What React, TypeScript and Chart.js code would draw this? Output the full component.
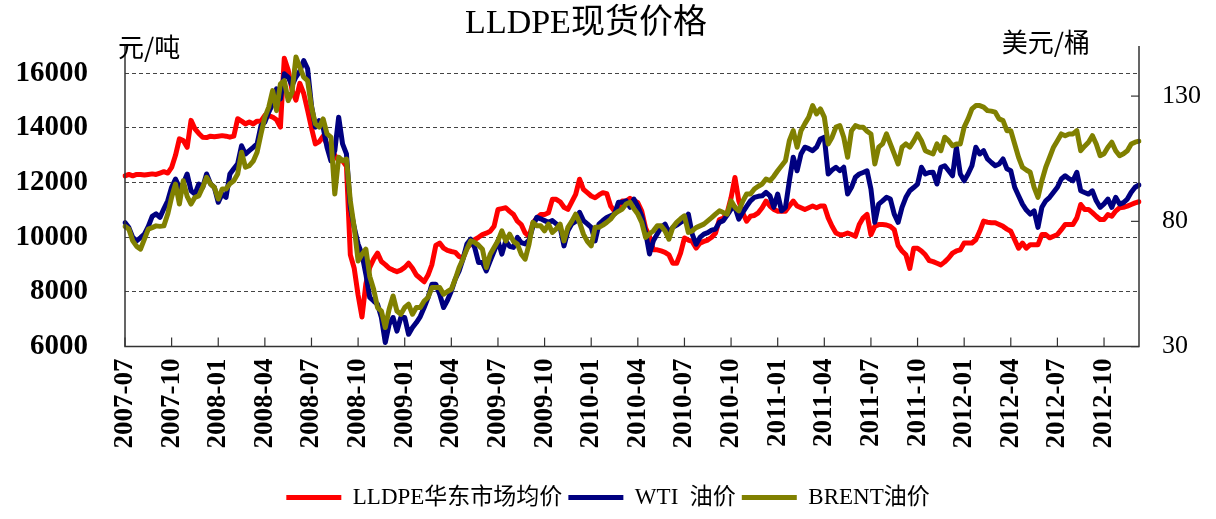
import React, { useEffect, useRef } from "react";
import { Chart, registerables } from "chart.js";

Chart.register(...registerables);

const TITLE = "LLDPE现货价格";
const LEFT_UNIT = "元/吨";
const RIGHT_UNIT = "美元/桶";
const TICK_LABELS = [
  "2007-07", "2007-10", "2008-01", "2008-04", "2008-07", "2008-10",
  "2009-01", "2009-04", "2009-07", "2009-10", "2010-01", "2010-04",
  "2010-07", "2010-10", "2011-01", "2011-04", "2011-07", "2011-10",
  "2012-01", "2012-04", "2012-07", "2012-10",
];
const LEFT_TICKS = [6000, 8000, 10000, 12000, 14000, 16000];
const RIGHT_TICKS = [30, 80, 130];
const SERIES_NAMES = ["LLDPE华东市场均价", "WTI  油价", "BRENT油价"];
const COLORS = ["#FF0000", "#000080", "#808000"];

// four readings per month, 2007-07 .. 2012-12 (first half)
const LLDPE = [
  12250, 12300, 12250, 12300,
  12300, 12280, 12300, 12320,
  12300, 12350, 12400, 12350,
  12556, 13000, 13600, 13540,
  13294, 14278, 13970, 13800,
  13663, 13650, 13700, 13680,
  13700, 13720, 13700, 13663,
  13700, 14340, 14250, 14150,
  14217, 14150, 14250, 14250,
  14463, 14450, 14401, 14300,
  14032, 16553, 16123, 15385,
  15016, 15631, 15262, 14647,
  14000, 13417, 13500, 13700,
  13400, 13200, 13000, 12800,
  12800, 12600, 9358, 8866,
  7882, 7082, 8300, 8900,
  9200, 9419, 9112, 9000,
  8866, 8800, 8743, 8800,
  8900, 9050, 8866, 8620,
  8500, 8374, 8620, 9000,
  9700, 9788, 9604, 9520,
  9481, 9450, 9300, 9235,
  9604, 9750, 9911, 10000,
  10096, 10150, 10219, 10404,
  11019, 11050, 11080, 10950,
  10834, 10588, 10465, 10158,
  10035, 10527, 10700, 10834,
  10834, 10900, 11388, 11388,
  11300, 11100, 11019, 11300,
  11572, 12125, 11757, 11634,
  11511, 11449, 11550, 11634,
  11600, 11142, 10957, 11100,
  11326, 11326, 11424, 11350,
  11265, 10957, 10342, 10035,
  9542, 9542, 9500, 9450,
  9358, 9050, 9050, 9419,
  9973, 9900, 9850, 9604,
  9788, 9850, 9900, 10000,
  10158, 10650, 10700, 10896,
  11449, 12187, 11326, 10900,
  10588, 10773, 10800, 10896,
  11080, 11326, 11142, 11019,
  10957, 10957, 10957, 11142,
  11326, 11142, 11080, 11019,
  11080, 11142, 11080, 11142,
  11142, 10711, 10404, 10158,
  10096, 10100, 10158, 10100,
  10035, 10465, 10711, 10834,
  10096, 10404, 10465, 10465,
  10450, 10400, 10280, 9700,
  9500, 9360, 8860, 9600,
  9600, 9500, 9360, 9150,
  9110, 9050, 8990, 9100,
  9240, 9420, 9500, 9540,
  9790, 9790, 9790, 9910,
  10220, 10590, 10550, 10530,
  10530, 10470, 10400, 10300,
  10220, 9910, 9600, 9790,
  9600, 9730, 9730, 9730,
  10100, 10100, 9980, 10040,
  10100, 10280, 10470, 10470,
  10470, 10710, 11200, 11020,
  11020, 10900, 10770, 10650,
  10650, 10830, 10770, 10960,
  11080, 11100, 11140, 11200,
  11260, 11300,
];

const WTI = [
  79.5, 77.5, 73.6, 72.2,
  73.5, 74.9, 78, 82,
  83, 81.6, 85, 88.2,
  93.6, 96.9, 93.6, 95,
  98.9, 92.2, 90.9, 94.9,
  93.6, 98.9, 95, 93.6,
  87.6, 90.9, 89.6, 98.9,
  101, 103, 110.2, 106.9,
  108.2, 109.5, 110.9, 118.2,
  119.6, 123.6, 126.9, 132.9,
  128.9, 138.9, 137.6, 134.2,
  137.6, 140, 144.2, 140.9,
  126.2, 117.6, 120.2, 117.6,
  109.6, 104.2, 108.2, 121.6,
  110.9, 106.9, 85.6, 77.6,
  70.9, 66.9, 58.9, 49.6,
  48.2, 46.9, 41.6, 31.6,
  38.9, 41.6, 36.2, 41.6,
  41.6, 34.9, 37.6, 39.6,
  42, 45.6, 49.6, 54.9,
  54.9, 50.9, 45.6, 48.5,
  52.2, 56.9, 60.2, 65,
  70.9, 72.9, 69.6, 63.6,
  63.6, 60.2, 64.2, 68,
  72.2, 66.9, 72.2, 70,
  69.6, 73.6, 71.5, 71,
  72.5, 78, 81.6, 81,
  80.3, 79.6, 80.3, 79,
  77.6, 70.2, 76.2, 79,
  80, 83.6, 80.3, 79,
  77.6, 72.2, 78.9, 80.3,
  81.5, 82.2, 82.9, 87.6,
  87.6, 88.2, 85.6, 88.9,
  86, 82.2, 75.6, 67,
  72.2, 75, 77.6, 78.9,
  75.5, 77.6, 78.5, 79.6,
  80.5, 82.9, 74.9, 70.9,
  73.6, 74.9, 75.5, 76.5,
  76.9, 79.6, 80.3, 82.5,
  84.9, 85.6, 80.9, 83.6,
  86, 88.2, 89.6, 90,
  90.2, 91.6, 90.2, 85.6,
  90.9, 84.2, 85.6, 96.2,
  105.6, 100.2, 106.9, 109.6,
  109, 108.2, 109.6, 112.9,
  113.6, 98.9, 100.5, 101.6,
  100.2, 101.6, 90.9, 93.6,
  97.6, 98.9, 99.5, 100.2,
  92.9, 79.6, 86.9, 88.2,
  89.6, 88.9, 82.9, 79.6,
  85.6, 89.6, 92.2, 93.5,
  94.9, 101.6, 98.9, 99.5,
  99.6, 94.9, 101.6, 102.2,
  100.2, 98.2, 109.6, 98.9,
  96.2, 98.9, 102.2, 109.6,
  106.9, 108.2, 104.9, 103.5,
  102.2, 102.9, 104.9, 101,
  100.2, 93.6, 90.2, 86.9,
  84.5, 82.9, 84.2, 77.6,
  85.6, 88.2, 89.6, 91.6,
  93.6, 96.9, 98.2, 97,
  96.2, 99.6, 92.2, 91.5,
  90.9, 92.2, 88.2, 85.6,
  87, 88.9, 85.6, 89.6,
  86.9, 87.5, 88.9, 91.6,
  93.6, 94.5,
];

const BRENT = [
  78, 76.9, 72.2, 70,
  68.9, 72.9, 76.9, 77.5,
  78.2, 78, 78.2, 82.9,
  89.6, 94.9, 86.9, 96.2,
  90, 86.9, 89.6, 90.2,
  93.6, 97.6, 95, 93.6,
  88.9, 92.9, 92.9, 95,
  96.2, 98.9, 107.6, 101.6,
  102.2, 104, 107.6, 114.9,
  121.6, 125.6, 132.2, 124.2,
  134.9, 136.2, 128.2, 131.6,
  145.6, 141.6, 137.6, 136.2,
  125.6, 118.9, 117.6, 120.9,
  114.9, 113.6, 90.9, 105.6,
  104.2, 104.9, 88.2, 77.6,
  64.2, 66.9, 68.9, 58,
  52.9, 45.6, 44.2, 37.6,
  45, 50.2, 44.2, 42.9,
  45.6, 46.9, 42.9, 45.6,
  45.6, 48.2, 49.6, 53.6,
  53.6, 53.6, 50.9, 52,
  52.9, 56.9, 61.6, 65,
  68.9, 72.2, 71.6, 70.5,
  68.9, 61.6, 66.9, 69.6,
  72.2, 76.2, 72.2, 74.9,
  72, 70.9, 66.9, 64.9,
  70.9, 79.6, 78.2, 78.2,
  76.2, 78.9, 75.6, 77,
  78.9, 72.2, 77.6, 80,
  82.9, 79.6, 74.9, 72,
  70.2, 77.6, 77.6, 78.5,
  79.6, 80.9, 82.9, 84,
  84.9, 86.9, 87.6, 85,
  82.9, 79.6, 73.6, 75,
  76.2, 78.2, 78.2, 76.2,
  72.9, 77.6, 79.6, 81,
  82.2, 75.6, 76.2, 77.5,
  78.2, 78.9, 80.2, 81.5,
  82.9, 84.2, 83.5, 82.9,
  88.2, 85.6, 84.2, 88,
  90.9, 90.9, 92.9, 94,
  94.9, 96.9, 96.2, 98,
  100.2, 102.2, 104.2, 112.2,
  116.2, 109.6, 116.2, 119,
  121.6, 126.2, 122.9, 124.9,
  121.6, 110.9, 113.6, 117.6,
  118.2, 113.6, 105.6, 116.2,
  118.2, 117.6, 117.6, 116,
  114.9, 102.9, 109.6, 110.9,
  114.9, 110.9, 106.9, 102.9,
  109.6, 110.9, 109.6, 112,
  114.9, 112.2, 108.2, 107.5,
  106.9, 110.9, 108.2, 113.6,
  112.2, 110.2, 110.9, 110.9,
  117.6, 120.9, 124.9, 126.2,
  126.2, 125.6, 124.2, 124,
  123.6, 120.9, 120.2, 116.2,
  116.2, 110.9, 105.6, 101.6,
  100.5, 99.6, 93.6, 89.6,
  96.2, 101.6, 105.6, 109.6,
  112.2, 114.9, 114.2, 114.9,
  114.9, 116.2, 108.2, 110,
  111.6, 114.2, 110.9, 106.2,
  107, 109.6, 111.6, 108.2,
  106.2, 107, 108.2, 110.9,
  111.6, 112,
];

const MONTHS: string[] = [];
for (let y = 2007; y <= 2012; y++) {
  for (let m = 1; m <= 12; m++) {
    if (y === 2007 && m < 7) continue;
    MONTHS.push(`${y}-${String(m).padStart(2, "0")}`);
  }
}
const CATEGORIES = MONTHS.flatMap((ym) => [0, 1, 2, 3].map((k) => `${ym}#${k}`)).slice(0, LLDPE.length);

const SERIF = '"Liberation Serif", "Times New Roman", serif';
const CJK = '"Liberation Serif", "Noto Sans CJK SC", sans-serif';

const framePlugin = {
  id: "frame",
  afterDraw(chart: any) {
    const { ctx, chartArea: a, scales } = chart;
    ctx.save();
    ctx.strokeStyle = "#333";
    ctx.lineWidth = 1.5;
    ctx.setLineDash([]);
    ctx.beginPath();
    ctx.moveTo(a.left, a.top);
    ctx.lineTo(a.left, a.bottom);
    ctx.lineTo(a.right, a.bottom);
    ctx.lineTo(a.right, a.top);
    ctx.stroke();
    ctx.lineWidth = 1.2;
    const xs = scales.x;
    xs.ticks.forEach((t: any, i: number) => {
      if (t.label) {
        const px = xs.getPixelForTick(i);
        ctx.beginPath();
        ctx.moveTo(px, a.bottom);
        ctx.lineTo(px, a.bottom - 9);
        ctx.stroke();
      }
    });
    const yr = scales.y1;
    yr.ticks.forEach((t: any, i: number) => {
      const py = yr.getPixelForTick(i);
      ctx.beginPath();
      ctx.moveTo(a.right - 8, py);
      ctx.lineTo(a.right, py);
      ctx.stroke();
    });
    ctx.fillStyle = "#000";
    ctx.textBaseline = "middle";
    ctx.textAlign = "center";
    ctx.font = `34px ${CJK}`;
    ctx.fillText(TITLE, 586, 24);
    ctx.font = '26px "Noto Sans CJK SC"';
    ctx.textAlign = "left";
    ctx.fillText(LEFT_UNIT, a.left - 7, a.top + 1);
    ctx.textAlign = "right";
    ctx.fillText(RIGHT_UNIT, a.right - 49, a.top - 4);
    ctx.restore();
  },
};

export default function App() {
  const ref = useRef<HTMLCanvasElement | null>(null);
  useEffect(() => {
    document.body.style.margin = "0";
    const canvas = ref.current;
    if (!canvas) return;
    const chart = new Chart(canvas, {
      type: "line",
      data: {
        labels: CATEGORIES,
        datasets: [
          { label: SERIES_NAMES[0], data: LLDPE, yAxisID: "y", order: 2 },
          { label: SERIES_NAMES[1], data: WTI, yAxisID: "y1", order: 1 },
          { label: SERIES_NAMES[2], data: BRENT, yAxisID: "y1", order: 0 },
        ].map((d, i) => ({
          ...d,
          borderColor: COLORS[i],
          backgroundColor: COLORS[i],
          borderWidth: 5,
          pointRadius: 0,
          tension: 0,
          fill: false,
          borderJoinStyle: "round" as const,
          borderCapStyle: "round" as const,
        })),
      },
      options: {
        animation: false,
        responsive: false,
        layout: { padding: { top: 46, left: 0, right: 0, bottom: 0 } },
        plugins: {
          tooltip: { enabled: false },
          title: { display: false },
          legend: {
            position: "bottom",
            labels: {
              boxWidth: 55,
              boxHeight: 5,
              padding: 6,
              color: "#000",
              font: { family: CJK, size: 23 },
              generateLabels: (c: any) =>
                c.data.datasets.map((ds: any, i: number) => ({
                  text: ds.label,
                  fillStyle: ds.borderColor,
                  strokeStyle: ds.borderColor,
                  lineWidth: 0,
                  hidden: false,
                  datasetIndex: i,
                })),
            },
          },
        },
        scales: {
          x: {
            type: "category",
            offset: false,
            grid: { display: false, drawTicks: false },
            border: { display: false },
            afterFit: (s: any) => { s.height = 133.4; },
            ticks: {
              autoSkip: false,
              maxRotation: 90,
              minRotation: 90,
              padding: 12,
              color: "#000",
              font: { family: SERIF, size: 27, weight: "bold" },
              callback: (_v: any, i: number) => {
                const [ym, k] = CATEGORIES[i].split("#");
                return k === "0" && TICK_LABELS.includes(ym) ? ym : null;
              },
            },
          },
          y: {
            position: "left",
            min: 6000,
            max: 17000,
            afterFit: (s: any) => { s.width = 125; },
            afterBuildTicks: (s: any) => { s.ticks = LEFT_TICKS.map((v) => ({ value: v })); },
            grid: { color: "#444", lineWidth: 1, drawTicks: true, tickLength: 37, tickColor: "rgba(0,0,0,0)" },
            border: { display: false, dash: [4, 3] },
            ticks: {
              padding: 0,
              color: "#000",
              font: { family: SERIF, size: 29, weight: "bold" },
              callback: (v: any) => String(v),
            },
          },
          y1: {
            position: "right",
            min: 30,
            max: 150,
            afterFit: (s: any) => { s.width = 77; },
            afterBuildTicks: (s: any) => { s.ticks = RIGHT_TICKS.map((v) => ({ value: v })); },
            grid: { display: false, drawTicks: false },
            border: { display: false },
            ticks: {
              padding: 23,
              color: "#000",
              font: { family: SERIF, size: 26 },
              callback: (v: any) => String(v),
            },
          },
        },
      },
      plugins: [framePlugin],
    });
    return () => chart.destroy();
  }, []);
  return (
    <div style={{ width: 1216, height: 519, background: "#fff" }}>
      <canvas ref={ref} width={1216} height={519} />
    </div>
  );
}
